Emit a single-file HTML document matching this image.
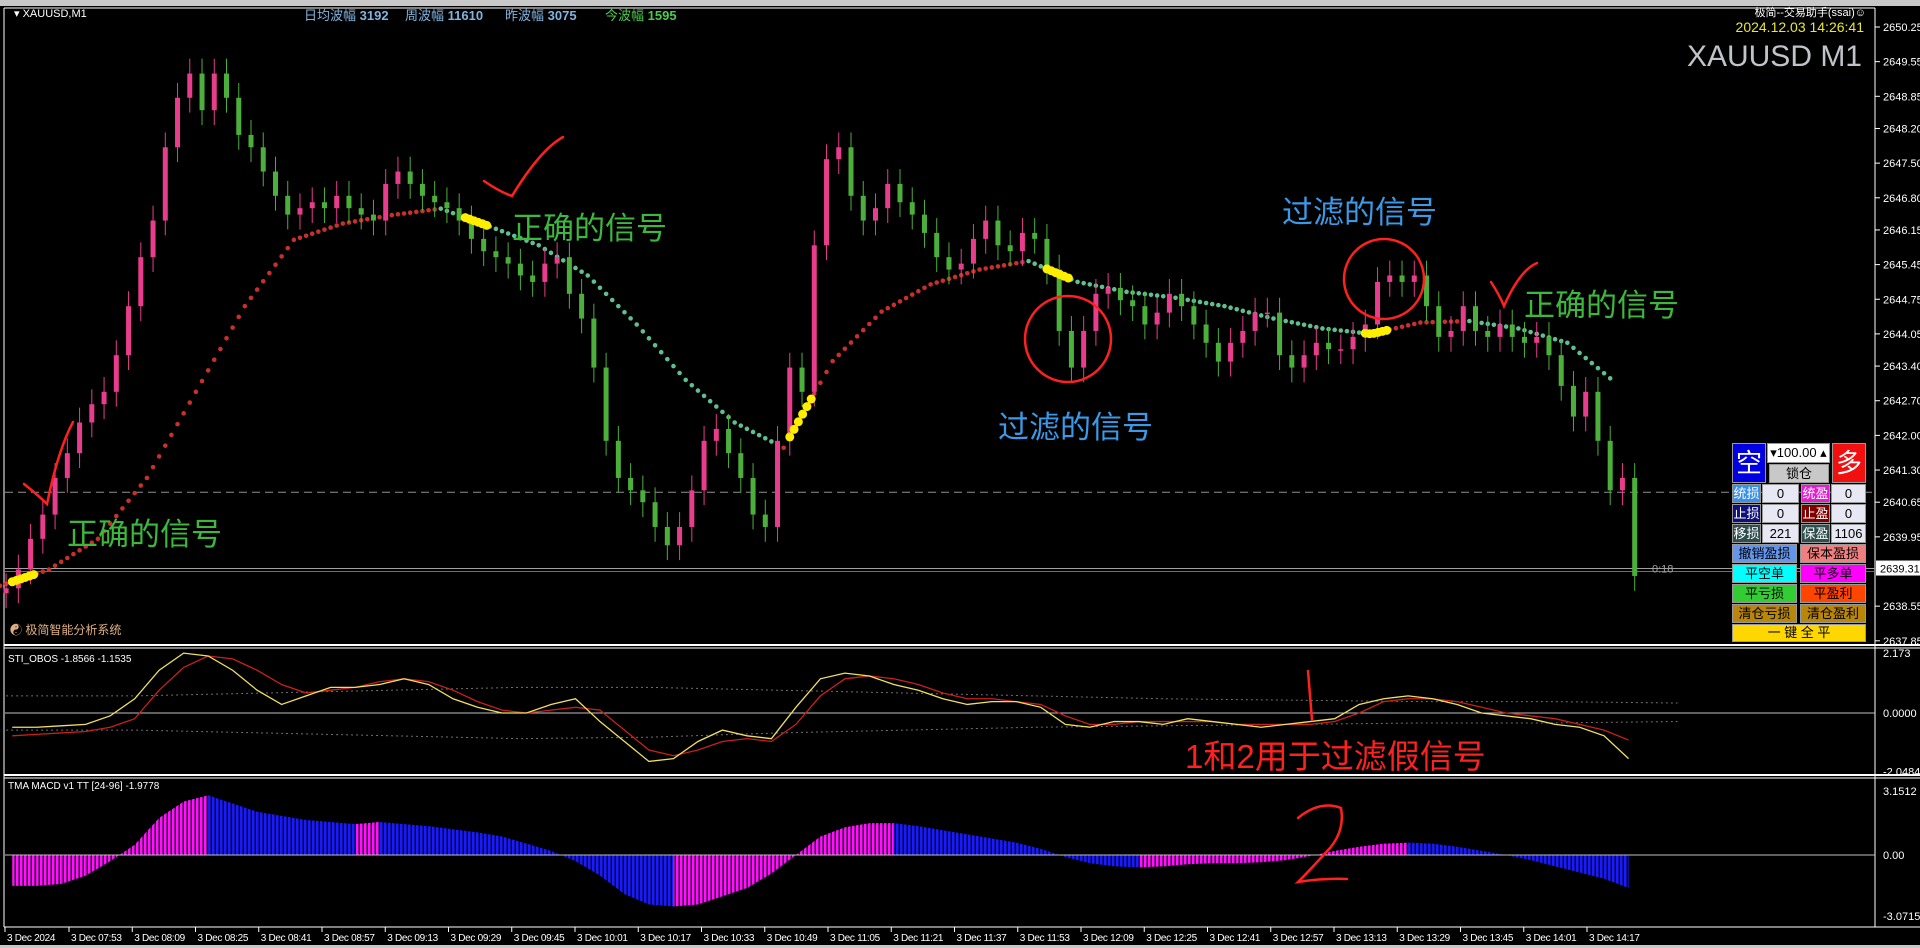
<!DOCTYPE html>
<html><head><meta charset="utf-8">
<style>
html,body{margin:0;padding:0;background:#000;width:1920px;height:948px;overflow:hidden;font-family:"Liberation Sans","Noto Sans CJK SC",sans-serif}
#wrap{position:relative;width:1920px;height:948px}
svg{position:absolute;left:0;top:0}
.pn{position:absolute;box-sizing:border-box;font-family:"Liberation Sans","Noto Sans CJK SC",sans-serif;font-size:13px;text-align:center;color:#000;line-height:19px;border:1px solid #999}
</style></head><body>
<div id="wrap">
<svg id="chart" width="1920" height="948"></svg>

<div class="pn" style="left:1732px;top:443px;width:34px;height:40px;background:#0000e0;color:#fff;font-size:26px;line-height:38px">空</div>
<div class="pn" style="left:1767px;top:443px;width:63px;height:20px;background:#fff;font-size:13px;line-height:18px">▾100.00 ▴</div>
<div class="pn" style="left:1769px;top:464px;width:60px;height:19px;background:#c8c8c8;line-height:17px">锁仓</div>
<div class="pn" style="left:1832px;top:443px;width:34px;height:40px;background:#f01010;color:#fff;font-size:26px;line-height:38px">多</div>

<div class="pn" style="left:1732px;top:484px;width:29px;height:19px;background:#3a8fe8;color:#fff;line-height:17px">统损</div>
<div class="pn" style="left:1762px;top:484px;width:37px;height:19px;background:#e8e8f4;line-height:17px">0</div>
<div class="pn" style="left:1801px;top:484px;width:29px;height:19px;background:#e020d0;color:#fff;line-height:17px">统盈</div>
<div class="pn" style="left:1831px;top:484px;width:35px;height:19px;background:#e8e8f4;line-height:17px">0</div>

<div class="pn" style="left:1732px;top:504px;width:29px;height:19px;background:#10107a;color:#fff;line-height:17px">止损</div>
<div class="pn" style="left:1762px;top:504px;width:37px;height:19px;background:#e8e8f4;line-height:17px">0</div>
<div class="pn" style="left:1801px;top:504px;width:29px;height:19px;background:#800000;color:#fff;line-height:17px">止盈</div>
<div class="pn" style="left:1831px;top:504px;width:35px;height:19px;background:#e8e8f4;line-height:17px">0</div>

<div class="pn" style="left:1732px;top:524px;width:29px;height:19px;background:#2f4f4f;color:#fff;line-height:17px">移损</div>
<div class="pn" style="left:1762px;top:524px;width:37px;height:19px;background:#e8e8f4;line-height:17px">221</div>
<div class="pn" style="left:1801px;top:524px;width:29px;height:19px;background:#2f4f4f;color:#fff;line-height:17px">保盈</div>
<div class="pn" style="left:1831px;top:524px;width:35px;height:19px;background:#e8e8f4;line-height:17px">1106</div>

<div class="pn" style="left:1732px;top:544px;width:65px;height:19px;background:#6495ed;line-height:17px">撤销盈损</div>
<div class="pn" style="left:1800px;top:544px;width:66px;height:19px;background:#f08080;line-height:17px">保本盈损</div>
<div class="pn" style="left:1732px;top:564px;width:65px;height:19px;background:#00ffff;line-height:17px">平空单</div>
<div class="pn" style="left:1800px;top:564px;width:66px;height:19px;background:#ff00ff;line-height:17px">平多单</div>
<div class="pn" style="left:1732px;top:584px;width:65px;height:19px;background:#32cd32;line-height:17px">平亏损</div>
<div class="pn" style="left:1800px;top:584px;width:66px;height:19px;background:#ff4500;line-height:17px">平盈利</div>
<div class="pn" style="left:1732px;top:604px;width:65px;height:19px;background:#b8860b;line-height:17px">清仓亏损</div>
<div class="pn" style="left:1800px;top:604px;width:66px;height:19px;background:#b8860b;line-height:17px">清仓盈利</div>
<div class="pn" style="left:1732px;top:624px;width:134px;height:18px;background:#ffd700;line-height:16px">一 键 全 平</div>
</div>

<script>
// ---- data ----
const closes=[2638.91,2639.29,2639.91,2640.40,2641.14,2641.64,2642.26,2642.63,2642.88,2643.62,2644.61,2645.60,2646.34,2647.82,2648.82,2649.31,2648.57,2649.31,2648.82,2648.07,2647.82,2647.33,2646.84,2646.46,2646.59,2646.71,2646.59,2646.84,2646.59,2646.46,2646.34,2647.08,2647.33,2647.08,2646.84,2646.71,2646.59,2646.34,2645.97,2645.72,2645.60,2645.47,2645.23,2645.10,2645.47,2645.60,2644.86,2644.36,2643.37,2641.89,2641.14,2640.89,2640.65,2640.15,2639.78,2640.15,2640.89,2641.89,2642.13,2641.64,2641.14,2640.40,2640.15,2641.89,2643.37,2642.88,2645.84,2647.58,2647.82,2646.84,2646.34,2646.59,2647.08,2646.71,2646.46,2646.09,2645.60,2645.35,2645.47,2645.97,2646.34,2645.84,2645.72,2646.09,2645.97,2645.35,2644.11,2643.37,2644.11,2644.86,2644.98,2644.73,2644.61,2644.24,2644.48,2644.86,2644.61,2644.24,2643.87,2643.49,2643.87,2644.11,2644.48,2644.48,2643.62,2643.37,2643.62,2643.87,2643.74,2643.74,2643.99,2644.24,2645.10,2645.23,2645.10,2645.23,2644.61,2643.99,2644.11,2644.61,2644.11,2643.99,2644.24,2643.99,2643.87,2643.99,2643.62,2643.00,2642.38,2642.88,2641.89,2640.89,2641.14,2639.16];
const maValues=[2638.96,2639.29,2639.91,2641.14,2642.88,2644.61,2645.95,2646.28,2646.45,2646.58,2646.22,2645.84,2645.23,2644.24,2643.12,2642.26,2641.75,2643.50,2644.50,2645.05,2645.35,2645.52,2645.10,2644.90,2644.78,2644.61,2644.36,2644.16,2644.05,2644.28,2644.31,2644.16,2643.87,2643.05];
const obosFast=[-0.5,-0.5,-0.45,-0.4,-0.1,0.5,1.5,2.1,2.0,1.5,0.8,0.3,0.6,0.9,0.9,1.0,1.2,1.0,0.5,0.2,0.0,0.0,0.3,0.5,-0.3,-1.0,-1.7,-1.6,-1.0,-0.6,-0.8,-0.9,0.2,1.2,1.4,1.3,1.0,0.8,0.5,0.3,0.4,0.4,0.2,-0.4,-0.5,-0.3,-0.3,-0.4,-0.2,-0.3,-0.4,-0.5,-0.4,-0.3,-0.2,0.3,0.5,0.6,0.5,0.3,0.0,-0.1,-0.2,-0.4,-0.5,-0.8,-1.6];
const obosSlow=[-0.8,-0.75,-0.7,-0.65,-0.5,-0.2,0.8,1.6,2.0,1.9,1.5,1.0,0.7,0.8,0.9,1.1,1.2,1.1,0.8,0.4,0.1,0.0,0.1,0.2,0.1,-0.6,-1.3,-1.5,-1.3,-1.0,-0.9,-1.0,-0.4,0.6,1.2,1.3,1.2,1.0,0.7,0.5,0.5,0.4,0.3,-0.1,-0.4,-0.4,-0.3,-0.3,-0.3,-0.3,-0.4,-0.4,-0.4,-0.4,-0.3,0.0,0.4,0.5,0.5,0.4,0.2,0.0,-0.1,-0.2,-0.4,-0.6,-0.95];
const bandUpper=[0.6,0.6,0.7,0.8,0.9,0.9,0.8,0.7,0.6,0.5,0.45,0.4,0.4,0.35];
const bandLower=[-0.6,-0.6,-0.7,-0.8,-0.9,-0.85,-0.7,-0.6,-0.5,-0.45,-0.4,-0.35,-0.35,-0.3];
const macdValues=[-1.5,-1.5,-1.4,-1.0,-0.3,0.5,1.8,2.6,2.9,2.5,2.1,1.9,1.7,1.6,1.5,1.6,1.5,1.4,1.25,1.1,0.9,0.55,0.2,-0.3,-1.0,-1.9,-2.4,-2.5,-2.4,-2.0,-1.6,-0.9,0.0,0.9,1.35,1.55,1.55,1.4,1.2,1.0,0.8,0.6,0.3,-0.1,-0.4,-0.55,-0.6,-0.55,-0.45,-0.4,-0.4,-0.35,-0.25,-0.05,0.2,0.4,0.55,0.6,0.55,0.4,0.2,0.0,-0.25,-0.55,-0.85,-1.15,-1.6];
const signalRanges=[[0.5,2.5],[37.5,39.5],[64,66],[85,87],[111,113]];
const priceTicks=["2650.25","2649.55","2648.85","2648.20","2647.50","2646.80","2646.15","2645.45","2644.75","2644.05","2643.40","2642.70","2642.00","2641.30","2640.65","2639.95","2638.55","2637.85"];
const obosTicks=["2.173","0.0000","-2.0484"];
const macdTicks=["3.1512","0.00","-3.0715"];
const timeLabels=["3 Dec 2024","3 Dec 07:53","3 Dec 08:09","3 Dec 08:25","3 Dec 08:41","3 Dec 08:57","3 Dec 09:13","3 Dec 09:29","3 Dec 09:45","3 Dec 10:01","3 Dec 10:17","3 Dec 10:33","3 Dec 10:49","3 Dec 11:05","3 Dec 11:21","3 Dec 11:37","3 Dec 11:53","3 Dec 12:09","3 Dec 12:25","3 Dec 12:41","3 Dec 12:57","3 Dec 13:13","3 Dec 13:29","3 Dec 13:45","3 Dec 14:01","3 Dec 14:17"];
const currentPrice=2639.31;
const dashedLevel=2640.85;

// ---- scales ----
const svg=document.getElementById('chart');
const NS='http://www.w3.org/2000/svg';
const xAt=i=>6.1+12.245*i;
const yP=p=>27+(2650.25-p)*49.5;
const yO=v=>713-v*28.5;
const yM=v=>855-v*20.6;
function mk(tag,attrs,parent){const e=document.createElementNS(NS,tag);for(const k in attrs)e.setAttribute(k,attrs[k]);(parent||svg).appendChild(e);return e;}
function txt(x,y,s,attrs,name){const t=mk('text',Object.assign({x:x,y:y},attrs));t.textContent=s;return t;}
function maAt(i){const k=(i+0.5)/4;const a=Math.max(0,Math.min(maValues.length-2,Math.floor(k)));const t=Math.min(1,Math.max(0,k-a));return maValues[a]+(maValues[a+1]-maValues[a])*t;}

// frames
let g=mk('g',{});

mk('rect',{x:0,y:0,width:1920,height:6,fill:'#c8c8c8'},g);
mk('line',{x1:4,y1:8,x2:1875,y2:8,stroke:'#fff'},g);
mk('line',{x1:4,y1:8,x2:4,y2:927,stroke:'#fff'},g);
mk('line',{x1:1875,y1:8,x2:1875,y2:927,stroke:'#fff'},g);
mk('line',{x1:4,y1:645,x2:1920,y2:645,stroke:'#fff',"stroke-width":2},g);
mk('line',{x1:4,y1:648,x2:1920,y2:648,stroke:'#fff'},g);
mk('line',{x1:4,y1:775,x2:1920,y2:775,stroke:'#fff',"stroke-width":2},g);
mk('line',{x1:4,y1:778,x2:1920,y2:778,stroke:'#fff'},g);
mk('line',{x1:4,y1:927,x2:1920,y2:927,stroke:'#fff'},g);
mk('rect',{x:0,y:945,width:1920,height:3,fill:'#c8c8c8'},g);

// price axis
priceTicks.forEach(p=>{const y=yP(+p);mk('line',{x1:1875,y1:y,x2:1880,y2:y,stroke:'#fff'});txt(1883,y+4,p,{fill:'#fff','font-size':11},'price-tick-label');});
obosTicks.forEach(p=>{const y=Math.min(Math.max(yO(+p),653),773);txt(1883,y+4,p,{fill:'#fff','font-size':11},'obos-tick-label');});
macdTicks.forEach(p=>{const y=Math.min(Math.max(yM(+p),791),916);txt(1883,y+4,p,{fill:'#fff','font-size':11},'macd-tick-label');});
// time axis
timeLabels.forEach((s,k)=>{const x=k===0?5:69+(k-1)*63.25;mk('line',{x1:x,y1:927,x2:x,y2:932,stroke:'#fff'});txt(x+2,941,s,{fill:'#fff','font-size':10,'letter-spacing':'-0.3'},'time-tick-label');});

// levels
let lv=mk('line',{x1:5,y1:yP(dashedLevel),x2:1875,y2:yP(dashedLevel),stroke:'#909090','stroke-dasharray':'8,5'});

let cp=mk('line',{x1:5,y1:yP(currentPrice),x2:1875,y2:yP(currentPrice),stroke:'#a0a0a0','stroke-width':1});

mk('line',{x1:5,y1:yP(currentPrice)+3,x2:1875,y2:yP(currentPrice)+3,stroke:'#707070'});
let pl=mk('rect',{x:1876,y:yP(currentPrice)-8,width:44,height:15,fill:'#fff'});

txt(1880,yP(currentPrice)+4,currentPrice.toFixed(2),{fill:'#000','font-size':11},'current-price-text');
txt(1652,yP(currentPrice)+4,'0:18',{fill:'#a0a0a0','font-size':11},'bar-timer');

// MA dotted line (candle index 4k-0.5)
for(let k=0;k<maValues.length-1;k++){
  const x0=xAt(4*k-0.5),x1=xAt(4*k+3.5),y0=yP(maValues[k]),y1=yP(maValues[k+1]);
  const col=maValues[k+1]>=maValues[k]?'#c8302c':'#5fbf8f';
  for(let s=0;s<8;s++){const t=s/8;const c=mk('circle',{cx:x0+(x1-x0)*t,cy:y0+(y1-y0)*t,r:2.3,fill:col});
    }
}

// candles
for(let i=0;i<closes.length;i++){
  const c=closes[i],o=i?closes[i-1]:c-0.1;
  const hi=Math.max(o,c)+0.3,lo=Math.min(o,c)-0.3;
  const col=c>=o?'#e83c8c':'#4caf3c';
  const x=xAt(i);
  const w=mk('line',{x1:x,y1:yP(hi),x2:x,y2:yP(lo),stroke:col,'stroke-width':1});
  
  const b=mk('rect',{x:x-2.5,y:yP(Math.max(o,c)),width:5,height:Math.max(1.5,Math.abs(yP(o)-yP(c))),fill:col});
  
}

// signal markers (yellow, on MA line)
signalRanges.forEach(([a,b])=>{for(let i=a;i<=b;i+=0.35){const d=mk('circle',{cx:xAt(i),cy:yP(maAt(i)),r:4.5,fill:'#ffee00'});}});

// OBOS pane
function poly(arr,start,step,yf,attrs,name){const pts=arr.map((v,k)=>xAt(start+step*k)+','+yf(v)).join(' ');const p=mk('polyline',Object.assign({points:pts,fill:'none'},attrs));}
mk('line',{x1:5,y1:yO(0),x2:1875,y2:yO(0),stroke:'#c0c0c0'});
poly(bandUpper,0,10.5,yO,{stroke:'#707070','stroke-dasharray':'2,3'},'obos-upper-band');
poly(bandLower,0,10.5,yO,{stroke:'#707070','stroke-dasharray':'2,3'},'obos-lower-band');
poly(obosSlow,0.5,2,yO,{stroke:'#c8201c','stroke-width':1.3},'obos-slow-line');
poly(obosFast,0.5,2,yO,{stroke:'#f0e060','stroke-width':1.3},'obos-fast-line');
txt(8,662,'STI_OBOS -1.8566 -1.1535',{fill:'#fff','font-size':10},'obos-title');

// MACD pane
const defs=mk('defs',{});
['m','b'].forEach(n=>{const pt=mk('pattern',{id:'p'+n,width:4,height:4,patternUnits:'userSpaceOnUse'},defs);mk('rect',{x:0,y:0,width:2.6,height:4,fill:n==='m'?'#ff10ff':'#1a1aff'},pt);});
for(let k=0;k<macdValues.length-1;k++){
  const x0=xAt(0.5+2*k),x1=xAt(2.5+2*k);
  const col=macdValues[k+1]>=macdValues[k]?'url(#pm)':'url(#pb)';
  const s=mk('polygon',{points:`${x0},${yM(0)} ${x0},${yM(macdValues[k])} ${x1},${yM(macdValues[k+1])} ${x1},${yM(0)}`,fill:col});
  
}
mk('line',{x1:5,y1:yM(0),x2:1875,y2:yM(0),stroke:'#c0c0c0'});
txt(8,789,'TMA MACD v1 TT [24-96] -1.9778',{fill:'#fff','font-size':10},'macd-title');

// header texts
txt(14,17,'▾ XAUUSD,M1',{fill:'#fff','font-size':11},'symbol-label');
const hdr=[[304,'日均波幅 ','3192','#7fb5e0'],[405,'周波幅 ','11610','#7fb5e0'],[505,'昨波幅 ','3075','#7fb5e0'],[605,'今波幅 ','1595','#4ccc4c']];
hdr.forEach(h=>{const t=mk('text',{x:h[0],y:20,fill:h[3],'font-size':13});t.textContent=h[1];const v=mk('tspan',{'font-weight':'bold'},t);v.textContent=h[2];});
txt(1866,16,'极简--交易助手(ssai)☺',{fill:'#fff','font-size':11,'text-anchor':'end'},'assistant-label');
txt(1864,32,'2024.12.03 14:26:41',{fill:'#e8e830','font-size':14,'text-anchor':'end'},'datetime-label');
txt(1862,66,'XAUUSD M1',{fill:'#c0c4c8','font-size':30,'text-anchor':'end'},'symbol-watermark');
txt(10,634,'☯ 极简智能分析系统',{fill:'#e0b080','font-size':12},'system-label');

// annotations
const ann=mk('g',{fill:'none',stroke:'#ff2020','stroke-width':2.5,'stroke-linecap':'round'});

mk('path',{d:'M484,181 Q500,192 512,196 Q540,150 563,137'},ann);
mk('path',{d:'M1491,282 Q1500,296 1504,306 Q1520,270 1537,263'},ann);
mk('path',{d:'M24,484 Q38,495 47,504 Q58,450 73,422'},ann);
mk('path',{d:'M1308,671 L1312,720'},ann);
mk('path',{d:'M1298,818 Q1320,800 1341,808 Q1345,830 1330,848 Q1310,870 1298,882 Q1325,878 1347,879'},ann);
mk('circle',{cx:1068,cy:339,r:43},ann);
mk('circle',{cx:1384,cy:279,r:40},ann);
txt(512,239,'正确的信号',{fill:'#3cb83c','font-size':31},'annotation-correct-1');
txt(1524,316,'正确的信号',{fill:'#3cb83c','font-size':31},'annotation-correct-2');
txt(67,545,'正确的信号',{fill:'#3cb83c','font-size':31},'annotation-correct-3');
txt(1282,223,'过滤的信号',{fill:'#3a9ae8','font-size':31},'annotation-filter-1');
txt(998,438,'过滤的信号',{fill:'#3a9ae8','font-size':31},'annotation-filter-2');
txt(1185,768,'1和2用于过滤假信号',{fill:'#ff2020','font-size':33},'annotation-note');
</script>
</body></html>
